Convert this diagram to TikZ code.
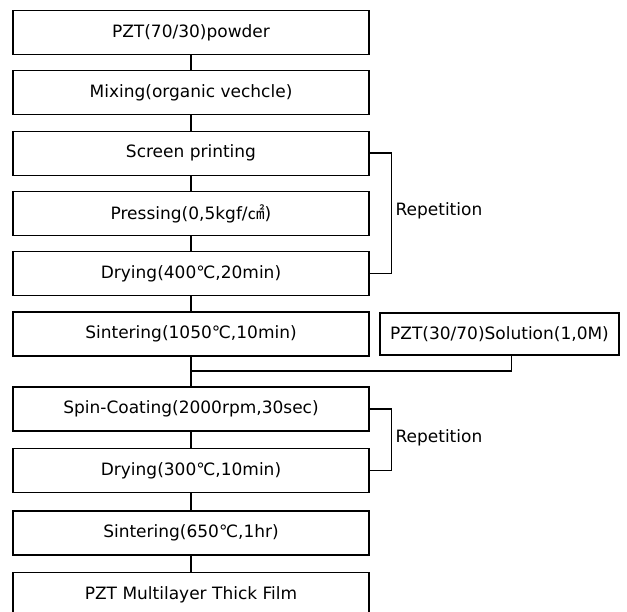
\documentclass[tikz,border=0pt]{standalone}
\usepackage{fontspec}
\setmainfont{DejaVu Sans}
\newfontfamily\cjk{Noto Sans CJK KR}
\usepackage{tikz}

\begin{document}
\begin{tikzpicture}[x=1pt,y=-1pt,node distance={60.3pt},
    main/.style={draw, line width=1.1pt, minimum width=356pt, minimum height=44pt, inner sep=0pt, font=\fontsize{17}{19}\selectfont},
    link/.style={line width=1.4pt}]
            \clip (0,0) rectangle (627,611);
            \fill[white] (0,0) rectangle (627,611);
            \node[main] (0) at (191,32.5) {PZT(70/30)powder};
            \node[main] (1) [below of=0] {Mixing(organic vechcle)};
            \node[main] (2) [below of=1] {Screen printing};
            \node[main] (3) [below of=2] {Pressing(0,5kgf/{\cjk ㎠})};
            \node[main] (4) [below of=3] {Drying(400℃,20min)};
            \node[main] (5) [below of=4] {Sintering(1050℃,10min)};
            \node[main] (6) [below of=5, node distance=75pt] {Spin-Coating(2000rpm,30sec)};
            \node[main] (7) [below of=6, node distance=61.5pt] {Drying(300℃,10min)};
            \node[main] (8) [below of=7, node distance=62.5pt] {Sintering(650℃,1hr)};
            \node[main] (9) [below of=8, node distance=61.5pt] {PZT Multilayer Thick Film};
            \node[main, minimum width=239pt, minimum height=42pt] (10) [right of=5, node distance=308.5pt] {PZT(30/70)Solution(1,0M)};
            \coordinate (j) at ([yshift=-37pt]5.center);

            \draw[link] (0) -- (1);
            \draw[link] (1) -- (2);
            \draw[link] (2) -- (3);
            \draw[link] (3) -- (4);
            \draw[link] (4) -- (5);
            \draw[link] (5) -- (6);
            \draw[link] (6) -- (7);
            \draw[link] (7) -- (8);
            \draw[link] (8) -- (9);
            \draw[link] ([xshift=12pt]10.south) |- (j);
            \draw[link] (2.east) -- ++(22,0) |- node[pos=0.25, right, yshift=3pt, font=\fontsize{17}{19}\selectfont] {Repetition} (4.east);
            \draw[link] (6.east) -- ++(22,0) |- node[pos=0.25, right, yshift=2pt, font=\fontsize{17}{19}\selectfont] {Repetition} (7.east);
          \end{tikzpicture}
\end{document}
